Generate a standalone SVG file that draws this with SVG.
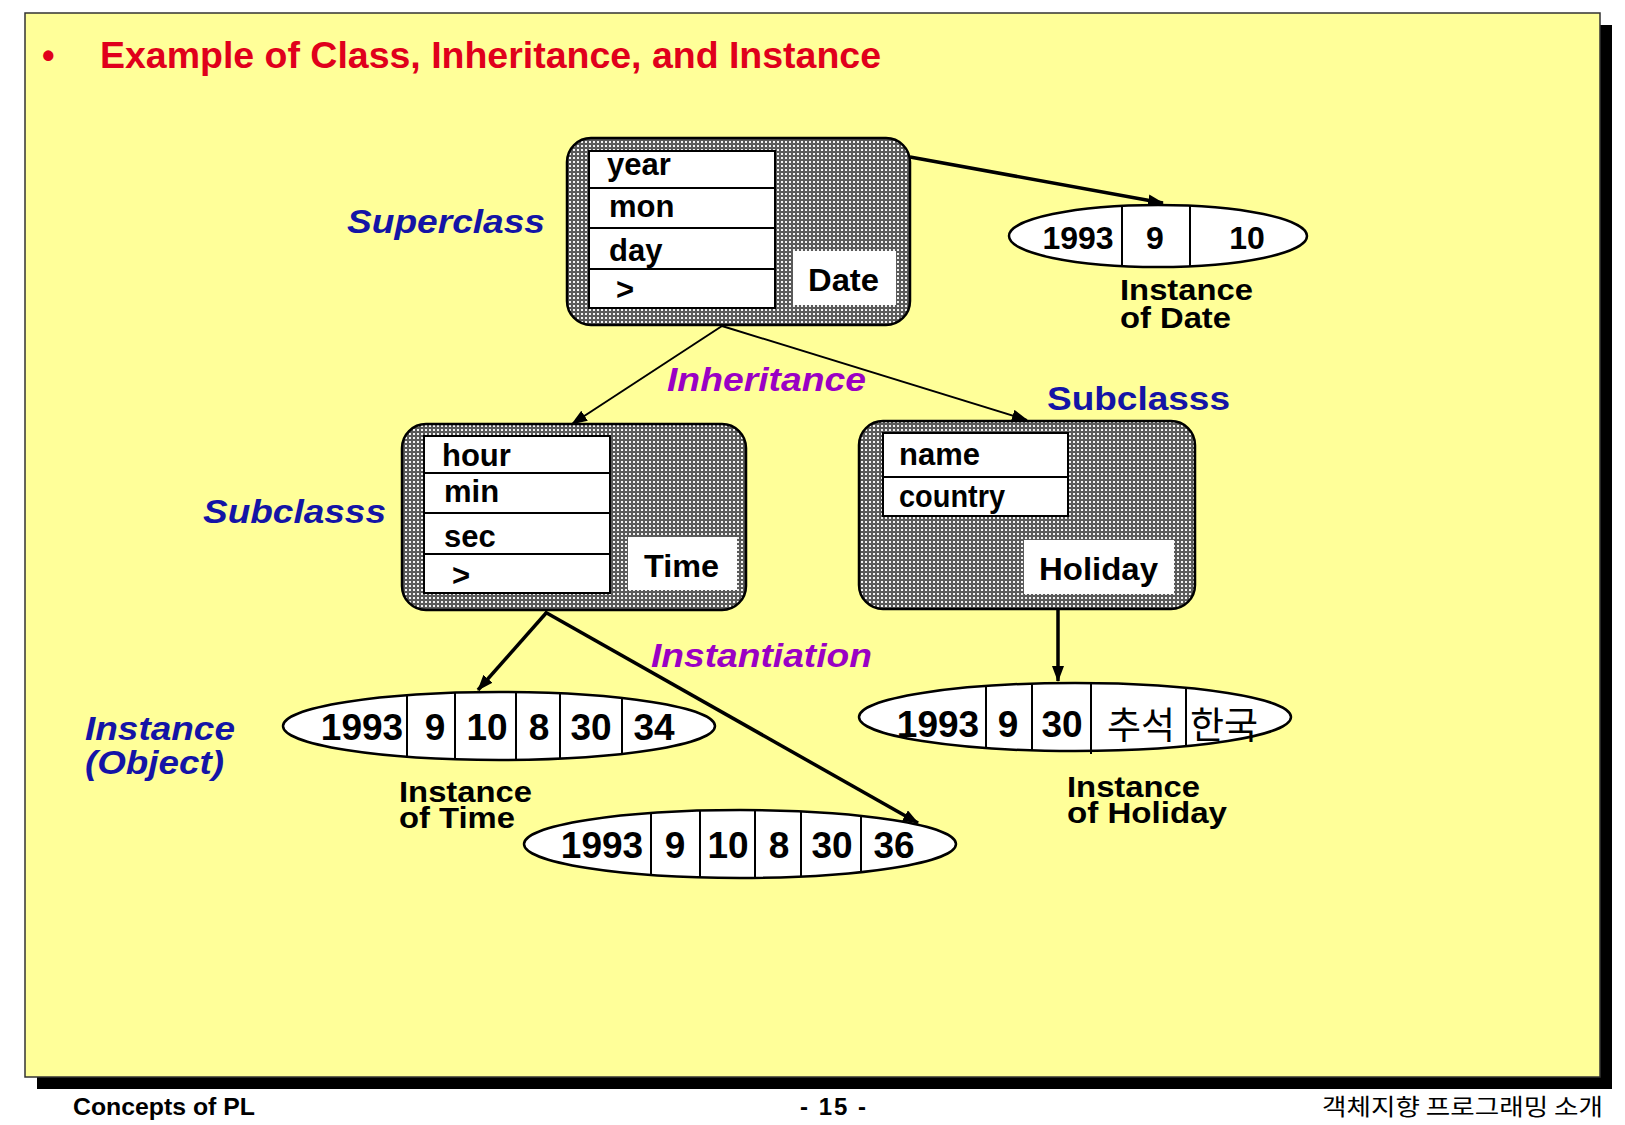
<svg xmlns="http://www.w3.org/2000/svg" width="1625" height="1125" viewBox="0 0 1625 1125">
<defs>
<pattern id="dots" width="4" height="4" patternUnits="userSpaceOnUse">
<rect width="4" height="4" fill="#5a5a5a"/>
<rect x="1" y="1" width="2" height="2" fill="#f2f2f2"/>
</pattern>
<marker id="arr" viewBox="0 0 16 12" markerWidth="16" markerHeight="12" refX="15" refY="6" orient="auto" markerUnits="userSpaceOnUse">
<path d="M0,0 L16,6 L0,12 z" fill="#000"/>
</marker>
<style>
text{font-family:"Liberation Sans",Arial,"Noto Sans CJK KR",sans-serif;font-weight:bold;fill:#000}
.cls{fill:url(#dots);stroke:#000;stroke-width:2.5}
.tbl{fill:#fff;stroke:#000;stroke-width:2}
.div{stroke:#000;stroke-width:2}
.lbl{fill:#fff}
.ell{fill:#fff;stroke:#000;stroke-width:2.5}
.attr{font-size:31px}
.num{font-size:37px;text-anchor:middle}
.numS{font-size:32px;text-anchor:middle}
.ko{font-family:"Noto Sans CJK KR",sans-serif;font-weight:normal;font-size:37px;text-anchor:middle}
.cap{font-size:30px}
.blue{fill:#1414a6;font-size:33px}
.purple{fill:#9a00c4;font-size:33px;font-style:italic}
.it{font-style:italic}
.thick{stroke:#000;stroke-width:3.5;fill:none}
.thin{stroke:#000;stroke-width:2;fill:none}
</style>
</defs>

<g id="frame">
<rect x="37" y="25" width="1575" height="1064" fill="#000"/>
<rect x="25" y="13" width="1575" height="1064" fill="#ffff99" stroke="#333" stroke-width="1.5"/>
</g>

<g id="title">
<text x="42" y="68" font-size="36" style="fill:#e0001b">•</text>
<text x="100" y="68" font-size="36" style="fill:#e0001b" textLength="781" lengthAdjust="spacingAndGlyphs">Example of Class, Inheritance, and Instance</text>
</g>

<g id="connectors">
<line class="thick" x1="910" y1="157" x2="1163" y2="203" marker-end="url(#arr)"/>
<line class="thin" x1="722" y1="326" x2="572" y2="424" marker-end="url(#arr)"/>
<line class="thin" x1="722" y1="326" x2="1027" y2="420" marker-end="url(#arr)"/>
<line class="thick" x1="547" y1="612" x2="478" y2="690" marker-end="url(#arr)"/>
<line class="thick" x1="545" y1="612" x2="918" y2="823" marker-end="url(#arr)"/>
<line class="thick" x1="1058" y1="609" x2="1058" y2="681" marker-end="url(#arr)"/>
</g>

<g id="labels">
<text class="blue it" x="347" y="233" textLength="198" lengthAdjust="spacingAndGlyphs">Superclass</text>
<text class="blue it" x="203" y="523" textLength="183" lengthAdjust="spacingAndGlyphs">Subclasss</text>
<text class="blue" x="1047" y="410" textLength="183" lengthAdjust="spacingAndGlyphs">Subclasss</text>
<text class="blue it" x="85" y="740" textLength="150" lengthAdjust="spacingAndGlyphs">Instance</text>
<text class="blue it" x="85" y="774" textLength="139" lengthAdjust="spacingAndGlyphs">(Object)</text>
<text class="purple" x="667" y="391" textLength="199" lengthAdjust="spacingAndGlyphs">Inheritance</text>
<text class="purple" x="651" y="667" textLength="221" lengthAdjust="spacingAndGlyphs">Instantiation</text>
</g>

<g id="node-date">
<rect class="cls" x="567" y="138" width="343" height="187" rx="24"/>
<rect class="tbl" x="589" y="151" width="186" height="157"/>
<line class="div" x1="589" y1="188" x2="775" y2="188"/>
<line class="div" x1="589" y1="228" x2="775" y2="228"/>
<line class="div" x1="589" y1="269" x2="775" y2="269"/>
<text class="attr" x="607" y="175">year</text>
<text class="attr" x="609" y="217">mon</text>
<text class="attr" x="609" y="261">day</text>
<text class="attr" x="616" y="300">&gt;</text>
<rect class="lbl" x="793" y="251" width="103" height="54"/>
<text class="attr" x="808" y="291" textLength="71" lengthAdjust="spacingAndGlyphs">Date</text>
</g>

<g id="node-time">
<rect class="cls" x="402" y="424" width="344" height="186" rx="24"/>
<rect class="tbl" x="424" y="436" width="186" height="157"/>
<line class="div" x1="424" y1="473" x2="610" y2="473"/>
<line class="div" x1="424" y1="513" x2="610" y2="513"/>
<line class="div" x1="424" y1="554" x2="610" y2="554"/>
<text class="attr" x="442" y="466">hour</text>
<text class="attr" x="444" y="502">min</text>
<text class="attr" x="444" y="547">sec</text>
<text class="attr" x="452" y="586">&gt;</text>
<rect class="lbl" x="628" y="537" width="109" height="53"/>
<text class="attr" x="644" y="577" textLength="75" lengthAdjust="spacingAndGlyphs">Time</text>
</g>

<g id="node-holiday">
<rect class="cls" x="859" y="421" width="336" height="188" rx="24"/>
<rect class="tbl" x="883" y="433" width="185" height="83"/>
<line class="div" x1="883" y1="477" x2="1068" y2="477"/>
<text class="attr" x="899" y="465">name</text>
<text class="attr" x="899" y="507" textLength="106" lengthAdjust="spacingAndGlyphs">country</text>
<rect class="lbl" x="1024" y="540" width="150" height="54"/>
<text class="attr" x="1039" y="580" textLength="119" lengthAdjust="spacingAndGlyphs">Holiday</text>
</g>

<g id="instance-date">
<ellipse class="ell" cx="1158" cy="236" rx="149" ry="31"/>
<line class="div" x1="1122" y1="206" x2="1122" y2="266"/>
<line class="div" x1="1190" y1="206" x2="1190" y2="266"/>
<text class="numS" x="1078" y="249">1993</text>
<text class="numS" x="1155" y="249">9</text>
<text class="numS" x="1247" y="249">10</text>
<text class="cap" x="1120" y="300" textLength="133" lengthAdjust="spacingAndGlyphs">Instance</text>
<text class="cap" x="1120" y="328" textLength="111" lengthAdjust="spacingAndGlyphs">of Date</text>
</g>

<g id="instance-time-1">
<ellipse class="ell" cx="499" cy="726" rx="216" ry="34"/>
<line class="div" x1="407" y1="695" x2="407" y2="757"/>
<line class="div" x1="455" y1="693" x2="455" y2="759"/>
<line class="div" x1="516" y1="692" x2="516" y2="760"/>
<line class="div" x1="560" y1="693" x2="560" y2="759"/>
<line class="div" x1="622" y1="698" x2="622" y2="754"/>
<text class="num" x="362" y="740">1993</text>
<text class="num" x="435" y="740">9</text>
<text class="num" x="487" y="740">10</text>
<text class="num" x="539" y="740">8</text>
<text class="num" x="591" y="740">30</text>
<text class="num" x="654" y="740">34</text>
<text class="cap" x="399" y="802" textLength="133" lengthAdjust="spacingAndGlyphs">Instance</text>
<text class="cap" x="399" y="828" textLength="116" lengthAdjust="spacingAndGlyphs">of Time</text>
</g>

<g id="instance-time-2">
<ellipse class="ell" cx="740" cy="844" rx="216" ry="34"/>
<line class="div" x1="651" y1="813" x2="651" y2="875"/>
<line class="div" x1="700" y1="811" x2="700" y2="877"/>
<line class="div" x1="755" y1="810" x2="755" y2="878"/>
<line class="div" x1="801" y1="811" x2="801" y2="877"/>
<line class="div" x1="861" y1="816" x2="861" y2="872"/>
<text class="num" x="602" y="858">1993</text>
<text class="num" x="675" y="858">9</text>
<text class="num" x="728" y="858">10</text>
<text class="num" x="779" y="858">8</text>
<text class="num" x="832" y="858">30</text>
<text class="num" x="894" y="858">36</text>
</g>

<g id="instance-holiday">
<ellipse class="ell" cx="1075" cy="717" rx="216" ry="34"/>
<line class="div" x1="986" y1="686" x2="986" y2="748"/>
<line class="div" x1="1032" y1="684" x2="1032" y2="750"/>
<line class="div" x1="1091" y1="683" x2="1091" y2="754"/>
<line class="div" x1="1186" y1="688" x2="1186" y2="746"/>
<text class="num" x="938" y="737">1993</text>
<text class="num" x="1008" y="737">9</text>
<text class="num" x="1062" y="737">30</text>
<text class="ko" x="1141" y="739">추석</text>
<text class="ko" x="1224" y="739">한국</text>
<text class="cap" x="1067" y="797" textLength="133" lengthAdjust="spacingAndGlyphs">Instance</text>
<text class="cap" x="1067" y="823" textLength="160" lengthAdjust="spacingAndGlyphs">of Holiday</text>
</g>

<g id="footer">
<text x="73" y="1115" font-size="24" textLength="182" lengthAdjust="spacingAndGlyphs">Concepts of PL</text>
<text x="800" y="1115" font-size="24" textLength="66" lengthAdjust="spacing">- 15 -</text>
<text x="1322" y="1115" font-size="23" style="font-family:'Noto Sans CJK KR',sans-serif;font-weight:normal" textLength="281" lengthAdjust="spacingAndGlyphs">객체지향 프로그래밍 소개</text>
</g>
</svg>
